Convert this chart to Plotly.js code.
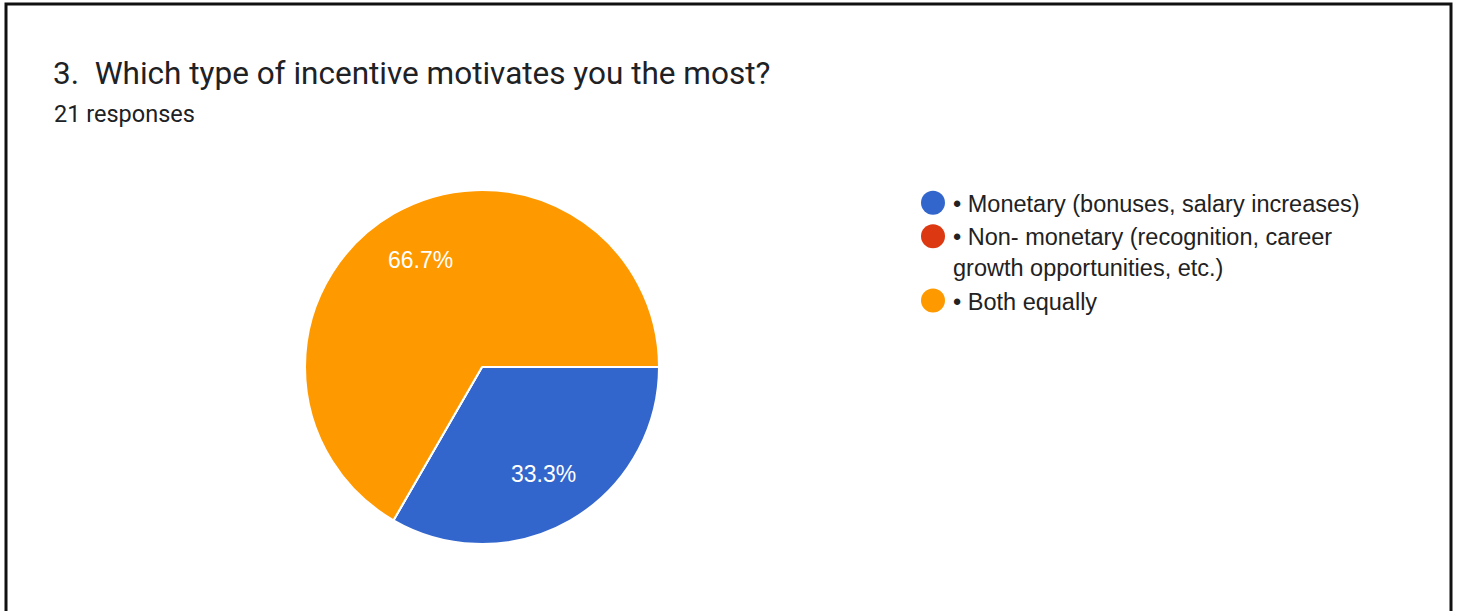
<!DOCTYPE html>
<html>
<head>
<meta charset="utf-8">
<script src="https://cdn.plot.ly/plotly-3.0.1.min.js"></script>
<style>
  html, body { margin: 0; padding: 0; background: #fff; }
  #chart { width: 1457px; height: 611px; }
</style>
</head>
<body>
<div id="chart"></div>
<script>
// ---- data ----
const chartTitle = "3.\u00a0 Which type of incentive motivates you the most?";
const responsesText = "21 responses";
const categories = [
  "• Monetary (bonuses, salary increases)",
  "• Non- monetary (recognition, career<br>growth opportunities, etc.)",
  "• Both equally"
];
const counts = [7, 0, 14];
const sliceColors = ["#3366cc", "#dc3912", "#ff9900"];

// ---- chart ----
const W = 1457, H = 611;
const pieDomain = { x: [305 / W, 659 / W], y: [1 - 544 / H, 1 - 190 / H] };
const pieRotation = 90; // first slice starts at 3 o'clock, clockwise

const trace = {
  type: "pie",
  labels: categories,
  values: counts,
  sort: false,
  direction: "clockwise",
  rotation: pieRotation,
  marker: { colors: sliceColors, line: { color: "#ffffff", width: 2 } },
  textinfo: "none",
  hoverinfo: "label+value+percent",
  domain: pieDomain,
  showlegend: true
};

// Percentage labels, placed on each slice's mid-angle at 0.7 of the radius (Google Charts style)
const total = counts.reduce((a, b) => a + b, 0);
const cxPx = (pieDomain.x[0] + pieDomain.x[1]) / 2 * W;
const cyPx = (1 - (pieDomain.y[0] + pieDomain.y[1]) / 2) * H;
const rPx = Math.min((pieDomain.x[1] - pieDomain.x[0]) * W, (pieDomain.y[1] - pieDomain.y[0]) * H) / 2;
const labelAnnotations = [];
let cum = 0;
counts.forEach(function (v) {
  if (v > 0) {
    const midFrac = (cum + v / 2) / total;
    const ang = (pieRotation - 90) * Math.PI / 180 + midFrac * 2 * Math.PI; // clockwise from 3 o'clock (screen)
    const px = cxPx + 0.7 * rPx * Math.cos(ang);
    const py = cyPx + 0.7 * rPx * Math.sin(ang);
    labelAnnotations.push({
      text: (100 * v / total).toFixed(1) + "%",
      showarrow: false, xref: "paper", yref: "paper",
      x: px / W, y: 1 - py / H, xanchor: "center", yanchor: "middle",
      font: { family: "Liberation Sans, Arial, sans-serif", size: 23, color: "#ffffff" }
    });
  }
  cum += v;
});

const layout = {
  width: W, height: H,
  margin: { l: 0, r: 0, t: 0, b: 0 },
  paper_bgcolor: "#ffffff",
  title: {
    text: chartTitle,
    x: 53 / W, xanchor: "left", xref: "paper",
    y: 1 - 73 / H, yanchor: "middle", yref: "paper",
    font: { family: "Roboto, sans-serif", size: 31.5, color: "#202124" }
  },
  annotations: [{
    text: responsesText, showarrow: false,
    xref: "paper", yref: "paper",
    x: 52 / W, xanchor: "left", y: 1 - 114 / H, yanchor: "middle",
    font: { family: "Roboto, sans-serif", size: 23.5, color: "#202124" }
  }].concat(labelAnnotations),
  legend: {
    x: 913 / W, xanchor: "left", y: 1 - 181 / H, yanchor: "top",
    valign: "top",
    font: { family: "Liberation Sans, Arial, sans-serif", size: 23.5, color: "#222222" },
    tracegroupgap: 0, itemclick: false
  },
  shapes: [{
    type: "rect", xref: "paper", yref: "paper",
    x0: 6 / W, x1: 1451 / W, y0: -0.05, y1: 1 - 4 / H,
    line: { color: "#111111", width: 3 }, fillcolor: "rgba(0,0,0,0)"
  }]
};

Plotly.newPlot("chart", [trace], layout, { displayModeBar: false, staticPlot: true }).then(function (gd) {
  // Google-style round legend swatches
  const r = 12;
  const circ = "M" + r + ",0A" + r + "," + r + " 0 1,1 0,-" + r + "A" + r + "," + r + " 0 0,1 " + r + ",0Z";
  gd.querySelectorAll(".legend .legendpoints path").forEach(function (p) {
    p.setAttribute("d", circ);
    p.style.strokeWidth = "0";
  });
});
</script>
</body>
</html>
